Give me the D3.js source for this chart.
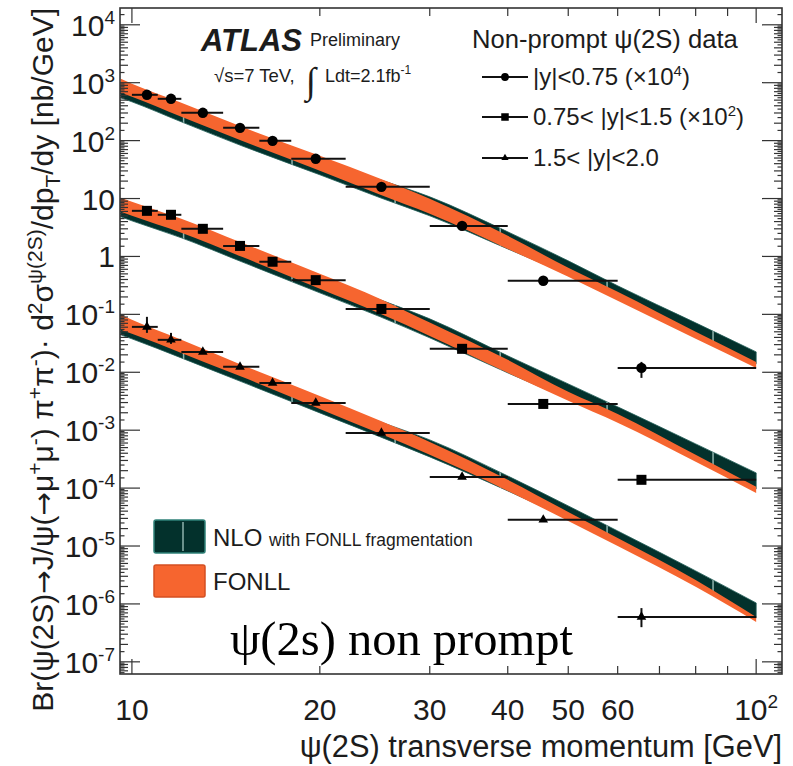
<!DOCTYPE html>
<html><head><meta charset="utf-8">
<script src="https://cdn.jsdelivr.net/npm/d3@7"></script>
<style>
body{margin:0;background:#fff}
svg{display:block}
text{font-family:"Liberation Sans",Arial,Helvetica,sans-serif;fill:#1c1c1c}
</style>
</head><body>
<svg id="c" width="793" height="766"></svg>
<script>
// ---------- data ----------
const binLo = [10, 11, 12, 14, 16, 18, 22, 30, 40, 60];
const binHi = [11, 12, 14, 16, 18, 22, 30, 40, 60, 100];
const ptCenter = [10.57, 11.55, 12.99, 14.9, 16.8, 19.7, 25.1, 33.8, 45.6, 65.5];

const s1Vals = [618, 527, 302, 166, 99, 48.5, 15.9, 3.37, 0.38, 0.0119];
const s2Vals = [6.13, 5.24, 3.0, 1.52, 0.81, 0.39, 0.124, 0.0254, 0.00284, 1.39e-4];
const s3Vals = [0.0608, 0.0363, 0.0225, 0.0124, 0.00656, 0.00296, 8.98e-4, 1.56e-4, 2.83e-5, 5.97e-7];

const s1ErrUp = [0, 0, 0, 0, 0, 0, 0, 0, 0, 0.0032];
const s1ErrDn = [0, 0, 0, 0, 0, 0, 0, 0, 0, 0.0039];
const s2ErrUp = [0, 0, 0, 0, 0, 0, 0, 0, 0, 0];
const s2ErrDn = [0, 0, 0, 0, 0, 0, 0, 0, 0, 0];
const s3ErrUp = [0.0298, 0.0116, 0, 0, 0, 0, 0, 0, 0, 2.5e-7];
const s3ErrDn = [0.0129, 0.0054, 0, 0, 0, 0, 0, 0, 0, 2.0e-7];

const theoryPt = [9.6, 10, 12, 15, 20, 25, 30, 40, 50, 60, 80, 100];
const fonllHi1 = [1168, 957, 450, 173, 54.6, 21.9, 9.88, 2.27, 0.636, 0.245, 0.0499, 0.0151];
const fonllLo1 = [669, 571, 258, 99.2, 30.1, 11.6, 5.44, 1.35, 0.444, 0.171, 0.0378, 0.0119];
const nloHi1   = [850, 725, 354, 142, 46.6, 21.0, 10.7, 2.66, 0.840, 0.311, 0.0713, 0.0225];
const nloLo1   = [549, 468, 211, 81.3, 25.7, 10.3, 5.03, 1.35, 0.481, 0.193, 0.0443, 0.0140];

const fonllHi2 = [10.3, 8.77, 4.46, 1.72, 0.501, 0.185, 0.0722, 0.0164, 0.00459, 0.00191, 3.75e-4, 1.05e-4];
const fonllLo2 = [5.89, 5.03, 2.56, 0.984, 0.276, 0.102, 0.0425, 0.00977, 0.00321, 0.00134, 2.84e-4, 8.27e-5];
const nloHi2   = [7.48, 6.64, 3.51, 1.41, 0.427, 0.178, 0.0836, 0.0192, 0.00630, 0.00253, 5.80e-4, 1.83e-4];
const nloLo2   = [4.83, 4.12, 2.10, 0.807, 0.235, 0.0906, 0.0393, 0.00977, 0.00347, 0.00151, 3.32e-4, 9.69e-5];

const fonllHi3 = [0.0980, 0.0804, 0.0363, 0.0134, 0.00391, 0.00145, 6.28e-4, 1.39e-4, 3.88e-5, 1.38e-5, 2.60e-6, 5.97e-7];
const fonllLo3 = [0.0540, 0.0461, 0.0216, 0.00833, 0.00233, 8.64e-4, 3.75e-4, 8.95e-5, 2.71e-5, 1.00e-5, 1.97e-6, 4.89e-7];
const nloHi3   = [0.0713, 0.0608, 0.0286, 0.0110, 0.00334, 0.00139, 6.80e-4, 1.62e-4, 4.93e-5, 1.82e-5, 3.72e-6, 1.04e-6];
const nloLo3   = [0.0443, 0.0378, 0.0177, 0.00683, 0.00199, 7.66e-4, 3.46e-4, 8.95e-5, 2.94e-5, 1.13e-5, 2.31e-6, 5.73e-7];

const nloSegEdges = [12.1, 18.05, 26.4, 38.9, 57.7, 85.3];

const xTickVals = [10, 20, 30, 40, 50, 60, 70, 80, 90, 100];
const xTickLabels = [["10",""], ["20",""], ["30",""], ["40",""], ["50",""], ["60",""], null, null, null, ["10","2"]];
const yDecades = [4, 3, 2, 1, 0, -1, -2, -3, -4, -5, -6, -7];
const yTickLabels = [["10","4"], ["10","3"], ["10","2"], ["10",""], ["1",""], ["10","-1"], ["10","-2"], ["10","-3"], ["10","-4"], ["10","-5"], ["10","-6"], ["10","-7"]];

const legendLabels = [["|y|<0.75 (×10", "4", ")"], ["0.75< |y|<1.5 (×10", "2", ")"], ["1.5< |y|<2.0", "", ""]];
const seriesShapes = ["circle", "square", "triangle"];

// ---------- setup ----------
const DARK = "#03312c", ORANGE = "#f6652f";
const svg = d3.select("#c");
const F = {l: 120, r: 782, t: 8, b: 674};
const x = d3.scaleLog().domain([9.57, 110]).range([F.l, F.r]);
const y = d3.scaleLog().domain([Math.pow(10, -7.21), Math.pow(10, 4.29)]).range([F.b, F.t]);

const defs = svg.append("defs");
defs.append("clipPath").attr("id", "frameClip").append("rect")
  .attr("x", F.l).attr("y", F.t).attr("width", F.r - F.l).attr("height", F.b - F.t);

const plot = svg.append("g").attr("clip-path", "url(#frameClip)");

const bands = [
  {fh: fonllHi1, fl: fonllLo1, nh: nloHi1, nl: nloLo1},
  {fh: fonllHi2, fl: fonllLo2, nh: nloHi2, nl: nloLo2},
  {fh: fonllHi3, fl: fonllLo3, nh: nloHi3, nl: nloLo3}
];

bands.forEach((b, si) => {
  const idx = theoryPt.map((_, i) => i);
  const nloArea = d3.area().curve(d3.curveMonotoneX)
    .x(i => x(theoryPt[i])).y0(i => y(b.nl[i])).y1(i => y(b.nh[i]));
  const fonllArea = d3.area().curve(d3.curveMonotoneX)
    .x(i => x(theoryPt[i])).y0(i => y(b.fl[i])).y1(i => y(b.fh[i]));
  plot.append("path").attr("d", nloArea(idx)).attr("fill", DARK)
    .attr("stroke", "#1f5d56").attr("stroke-width", 0.8);
  defs.append("clipPath").attr("id", "nloClip" + si).append("path").attr("d", nloArea(idx));
  const segG = plot.append("g").attr("clip-path", `url(#nloClip${si})`);
  nloSegEdges.forEach(p => {
    segG.append("line").attr("x1", x(p)).attr("x2", x(p)).attr("y1", F.t).attr("y2", F.b)
      .attr("stroke", "#8fb3ad").attr("stroke-width", 1.5);
  });
  plot.append("path").attr("d", fonllArea(idx)).attr("fill", ORANGE);
});

// ---------- data points ----------
const series = [
  {v: s1Vals, up: s1ErrUp, dn: s1ErrDn, shape: "circle"},
  {v: s2Vals, up: s2ErrUp, dn: s2ErrDn, shape: "square"},
  {v: s3Vals, up: s3ErrUp, dn: s3ErrDn, shape: "triangle"}
];
function drawMarker(g, shape, cx, cy, scale) {
  if (shape === "circle") {
    g.append("circle").attr("cx", cx).attr("cy", cy).attr("r", 5.2 * scale).attr("fill", "#000");
  } else if (shape === "square") {
    const s = 10 * scale;
    g.append("rect").attr("x", cx - s / 2).attr("y", cy - s / 2).attr("width", s).attr("height", s).attr("fill", "#000");
  } else {
    g.append("path").attr("transform", `translate(${cx},${cy})`)
      .attr("d", d3.symbol().type(d3.symbolTriangle).size(40 * scale * scale)()).attr("fill", "#000");
  }
}
const ptsG = svg.append("g").attr("clip-path", "url(#frameClip)");
series.forEach(s => {
  s.v.forEach((v, i) => {
    const cy = y(v);
    ptsG.append("line").attr("x1", x(binLo[i])).attr("x2", x(binHi[i])).attr("y1", cy).attr("y2", cy)
      .attr("stroke", "#111").attr("stroke-width", 2);
    if (s.up[i] > 0 || s.dn[i] > 0) {
      ptsG.append("line").attr("x1", x(ptCenter[i])).attr("x2", x(ptCenter[i]))
        .attr("y1", y(v + s.up[i])).attr("y2", y(v - s.dn[i]))
        .attr("stroke", "#111").attr("stroke-width", 2);
    }
    drawMarker(ptsG, s.shape, x(ptCenter[i]), cy, 1);
  });
});

// ---------- axes / frame ----------
const axG = svg.append("g").attr("stroke", "#333").attr("stroke-width", 1.2);
for (let d = -8; d <= 4; d++) {
  for (let k = 1; k < 10; k += 0.5) {
    const v = k * Math.pow(10, d);
    const py = y(v);
    if (py < F.t || py > F.b) continue;
    const len = (k === 1) ? 20 : (Number.isInteger(k) ? 8 : 4.5);
    axG.append("line").attr("x1", F.l).attr("x2", F.l + len).attr("y1", py).attr("y2", py);
    axG.append("line").attr("x1", F.r).attr("x2", F.r - len).attr("y1", py).attr("y2", py);
  }
}
xTickVals.forEach(v => {
  const px = x(v);
  const len = (v === 10 || v === 100) ? 15 : 8;
  axG.append("line").attr("x1", px).attr("x2", px).attr("y1", F.b).attr("y2", F.b - len);
  axG.append("line").attr("x1", px).attr("x2", px).attr("y1", F.t).attr("y2", F.t + len);
});
svg.append("rect").attr("x", F.l).attr("y", F.t).attr("width", F.r - F.l).attr("height", F.b - F.t)
  .attr("fill", "none").attr("stroke", "#333").attr("stroke-width", 1.6);

// tick labels
yDecades.forEach((d, i) => {
  const lab = yTickLabels[i];
  const t = svg.append("text").attr("x", 115).attr("y", y(Math.pow(10, d)) + 11)
    .attr("text-anchor", "end").style("font-size", "30px");
  t.append("tspan").text(lab[0]);
  if (lab[1]) t.append("tspan").attr("dy", -12).style("font-size", "19px").text(lab[1]);
});
xTickVals.forEach((v, i) => {
  const lab = xTickLabels[i];
  if (!lab) return;
  const t = svg.append("text").attr("x", x(v)).attr("y", 720)
    .attr("text-anchor", "middle").style("font-size", "30px");
  t.append("tspan").text(lab[0]);
  if (lab[1]) t.append("tspan").attr("dy", -12).style("font-size", "19px").text(lab[1]);
});

// axis titles
svg.append("text").attr("x", 782).attr("y", 757).attr("text-anchor", "end")
  .style("font-size", "30.8px").text("ψ(2S) transverse momentum [GeV]");

const ySegs = [["Br(ψ(2S)",0],["→",2],["J/ψ(",0],["→",2],["μ",0],["+",1],["μ",0],["-",1],[") π",0],["+",1],["π",0],["-",1],[")· d",0],["2",1],["σ",0],["ψ(2S)",1],["/dp",0],["T",-1],["/dy [nb/GeV]",0]];
const yt = svg.append("text").attr("transform", "translate(53,8) rotate(-90)")
  .attr("text-anchor", "end").style("font-size", "30px");
let cur = 0;
ySegs.forEach(([s, lvl]) => {
  const target = lvl === 1 ? -11 : (lvl === -1 ? 7 : 0);
  const ts = yt.append("tspan").attr("dy", target - cur).text(s);
  if (lvl === 1 || lvl === -1) ts.style("font-size", "21px");
  if (lvl === 2) ts.style("font-family", "'DejaVu Sans',sans-serif").style("font-size", "28px");
  cur = target;
});

// ATLAS label
svg.append("text").attr("x", 201).attr("y", 51).style("font-size", "31px")
  .style("font-weight", "bold").style("font-style", "italic").text("ATLAS");
svg.append("text").attr("x", 310).attr("y", 46).style("font-size", "18px").text("Preliminary");
svg.append("text").attr("x", 214).attr("y", 82).style("font-size", "18.5px").text("√s=7 TeV,");
svg.append("text").attr("x", 306).attr("y", 93).style("font-size", "37px")
  .style("font-family", "'Liberation Serif','DejaVu Serif',serif").text("∫");
const ldt = svg.append("text").attr("x", 325).attr("y", 82).style("font-size", "18px");
ldt.append("tspan").text("Ldt=2.1fb");
ldt.append("tspan").attr("dy", -8).style("font-size", "12px").text("-1");

// data legend
svg.append("text").attr("x", 472).attr("y", 48).style("font-size", "25.6px").text("Non-prompt ψ(2S) data");
const legY = [77, 117, 158];
legendLabels.forEach((lab, i) => {
  const ly = legY[i];
  svg.append("line").attr("x1", 482).attr("x2", 528).attr("y1", ly).attr("y2", ly)
    .attr("stroke", "#111").attr("stroke-width", 2);
  drawMarker(svg, seriesShapes[i], 505, ly, 0.75);
  const t = svg.append("text").attr("x", 533).attr("y", ly + 8).style("font-size", "24px");
  t.append("tspan").text(lab[0]);
  if (lab[1]) {
    t.append("tspan").attr("dy", -9).style("font-size", "15px").text(lab[1]);
    t.append("tspan").attr("dy", 9).text(lab[2]);
  }
});

// theory legend
svg.append("rect").attr("x", 154).attr("y", 520).attr("width", 51).attr("height", 33)
  .attr("fill", DARK).attr("stroke", "#2f8178").attr("stroke-width", 1.5).attr("rx", 2);
svg.append("line").attr("x1", 183).attr("x2", 183).attr("y1", 522).attr("y2", 551)
  .attr("stroke", "#8fb3ad").attr("stroke-width", 1.5);
svg.append("rect").attr("x", 154).attr("y", 565).attr("width", 51).attr("height", 32)
  .attr("fill", ORANGE).attr("stroke", "#d44f22").attr("stroke-width", 1.5).attr("rx", 2);
const nloT = svg.append("text").attr("x", 213).attr("y", 546).style("font-size", "24px");
nloT.append("tspan").text("NLO ");
nloT.append("tspan").style("font-size", "17.5px").text("with FONLL fragmentation");
svg.append("text").attr("x", 213).attr("y", 590).style("font-size", "24px").text("FONLL");

// annotation
svg.append("text").attr("x", 230).attr("y", 655).style("font-size", "48.5px")
  .style("font-family", "'Liberation Serif','Times New Roman',serif").style("fill", "#000")
  .text("ψ(2s) non prompt");
</script>
</body></html>
